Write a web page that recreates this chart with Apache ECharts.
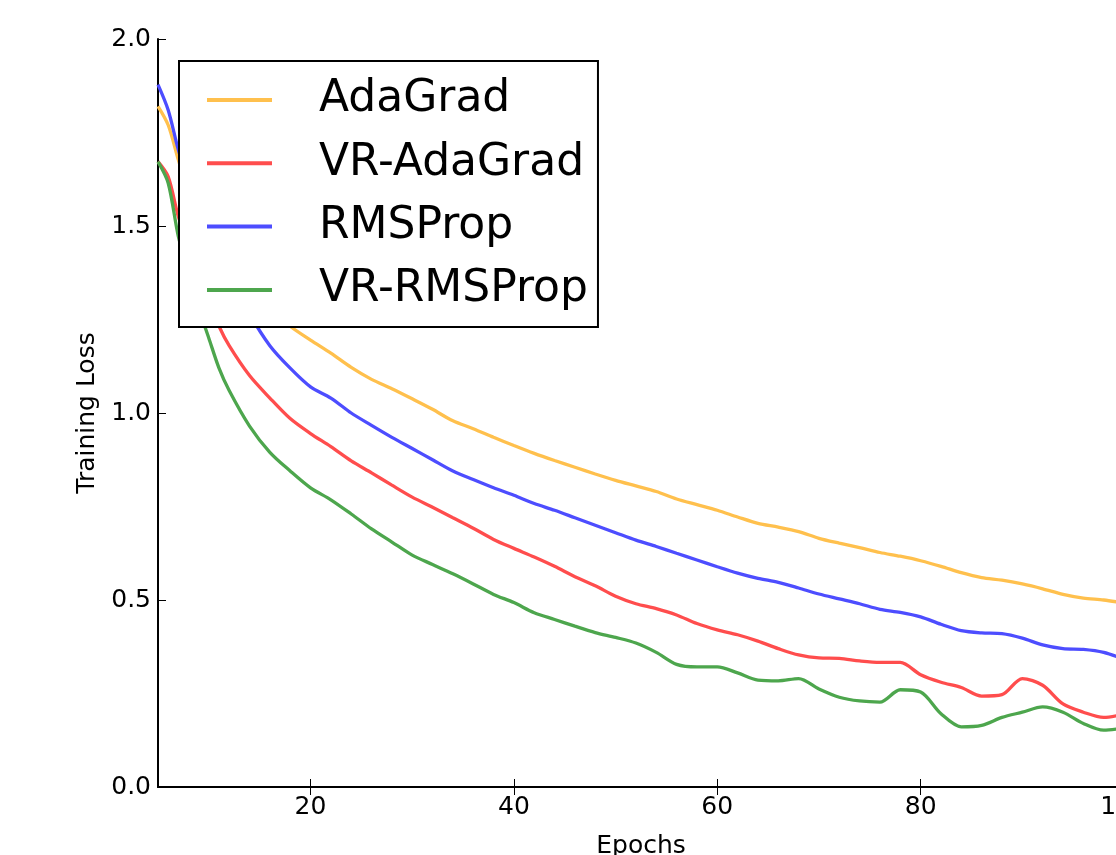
<!DOCTYPE html>
<html>
<head>
<meta charset="utf-8">
<script src="https://cdn.jsdelivr.net/npm/echarts@6/dist/echarts.min.js"></script>
<style>
html, body { margin: 0; padding: 0; background: #fff; }
#main { width: 1116px; height: 855px; }
</style>
</head>
<body>
<div id="main"></div>
<script>
var epochs = [5, 6, 7, 8, 9, 10, 11, 12, 14, 16, 18, 20, 22, 24, 26, 28, 30, 32, 34, 36, 38, 40,
  42, 44, 46, 48, 50, 52, 54, 56, 58, 60, 62, 64, 66, 68, 70, 72, 74, 76, 78, 80,
  82, 84, 86, 88, 90, 92, 94, 96, 98, 100];

var adaGrad = [1.82, 1.77, 1.677, 1.59, 1.53, 1.48, 1.44, 1.40, 1.335, 1.28, 1.232, 1.195, 1.16, 1.122, 1.09, 1.065, 1.038, 1.01, 0.979, 0.958, 0.935, 0.913,
  0.892, 0.873, 0.855, 0.837, 0.82, 0.805, 0.79, 0.77, 0.755, 0.74, 0.722, 0.705, 0.695, 0.683, 0.665, 0.652, 0.64, 0.627, 0.617, 0.605,
  0.59, 0.573, 0.56, 0.553, 0.543, 0.53, 0.515, 0.505, 0.50, 0.492];

var vrAdaGrad = [1.672, 1.632, 1.525, 1.45, 1.37, 1.30, 1.232, 1.18, 1.10, 1.04, 0.985, 0.945, 0.91, 0.872, 0.84, 0.807, 0.775, 0.748, 0.72, 0.692, 0.662, 0.638,
  0.615, 0.59, 0.562, 0.538, 0.51, 0.49, 0.477, 0.46, 0.437, 0.42, 0.407, 0.39, 0.37, 0.353, 0.345, 0.344, 0.337, 0.333, 0.333, 0.30,
  0.28, 0.266, 0.243, 0.247, 0.29, 0.272, 0.222, 0.20, 0.186, 0.195];

var rmsProp = [1.878, 1.81, 1.704, 1.62, 1.55, 1.48, 1.42, 1.37, 1.265, 1.18, 1.12, 1.07, 1.04, 1.00, 0.967, 0.935, 0.905, 0.875, 0.845, 0.822, 0.80, 0.78,
  0.758, 0.74, 0.72, 0.70, 0.68, 0.66, 0.643, 0.625, 0.607, 0.589, 0.572, 0.558, 0.547, 0.532, 0.516, 0.503, 0.49, 0.475, 0.467, 0.455,
  0.435, 0.418, 0.412, 0.41, 0.398, 0.38, 0.37, 0.368, 0.36, 0.342];

var vrRmsProp = [1.672, 1.615, 1.472, 1.375, 1.28, 1.20, 1.12, 1.06, 0.965, 0.895, 0.845, 0.80, 0.768, 0.73, 0.69, 0.655, 0.62, 0.595, 0.57, 0.543, 0.515, 0.493,
  0.466, 0.448, 0.43, 0.413, 0.40, 0.385, 0.36, 0.328, 0.321, 0.321, 0.305, 0.286, 0.284, 0.29, 0.262, 0.24, 0.23, 0.227, 0.26, 0.254,
  0.196, 0.161, 0.165, 0.186, 0.20, 0.214, 0.20, 0.17, 0.152, 0.158];

var xTicks = [20, 40, 60, 80, 100];

var font = 'DejaVu Sans';

function pairs(values) {
  return epochs.map(function (e, i) { return [e, values[i]]; });
}

function lineSeries(name, color, values) {
  return {
    name: name,
    type: 'line',
    data: pairs(values),
    showSymbol: false,
    symbol: 'none',
    smooth: 0.3,
    color: color,
    lineStyle: { width: 3.3, color: color },
    clip: true,
    z: 2
  };
}

var chart = echarts.init(document.getElementById('main'));

var axisLine = { show: true, lineStyle: { color: '#000', width: 2 } };

chart.setOption({
  animation: false,
  backgroundColor: '#fff',
  grid: { left: 158, top: 39, width: 966, height: 748, containLabel: false, outerBoundsMode: 'none' },
  legend: {
    orient: 'vertical',
    left: 179,
    top: 61,
    selectedMode: false,
    icon: 'rect',
    itemWidth: 65,
    itemHeight: 4,
    itemGap: 13.3,
    padding: [14, 10, 12, 28],
    borderColor: '#000',
    borderWidth: 2,
    backgroundColor: '#fff',
    textStyle: {
      fontFamily: font,
      fontSize: 44,
      color: '#000',
      lineHeight: 50,
      padding: [0, 0, 0, 42]
    },
    data: ['AdaGrad', 'VR-AdaGrad', 'RMSProp', 'VR-RMSProp'],
    z: 10
  },
  xAxis: [{
    type: 'value',
    min: 5,
    max: 100,
    name: 'Epochs',
    nameLocation: 'middle',
    nameGap: 47,
    nameTextStyle: { fontFamily: font, fontSize: 25, color: '#000' },
    axisLine: axisLine,
    axisTick: { show: true, inside: true, length: 8, customValues: xTicks, lineStyle: { color: '#000', width: 1 } },
    axisLabel: { customValues: xTicks, fontFamily: font, fontSize: 25, color: '#000', margin: 8 },
    splitLine: { show: false }
  }, {
    type: 'value',
    position: 'top',
    min: 5,
    max: 100,
    axisLine: axisLine,
    axisTick: { show: true, inside: true, length: 8, customValues: xTicks, lineStyle: { color: '#000', width: 1 } },
    axisLabel: { show: false },
    splitLine: { show: false }
  }],
  yAxis: [{
    type: 'value',
    min: 0,
    max: 2,
    interval: 0.5,
    name: 'Training Loss',
    nameLocation: 'middle',
    nameGap: 58,
    nameTextStyle: { fontFamily: font, fontSize: 25, color: '#000' },
    axisLine: axisLine,
    axisTick: { show: true, inside: true, length: 8, lineStyle: { color: '#000', width: 1 } },
    axisLabel: {
      fontFamily: font, fontSize: 25, color: '#000', margin: 7,
      formatter: function (v) { return v.toFixed(1); }
    },
    splitLine: { show: false }
  }, {
    type: 'value',
    position: 'right',
    min: 0,
    max: 2,
    interval: 0.5,
    axisLine: axisLine,
    axisTick: { show: true, inside: true, length: 8, lineStyle: { color: '#000', width: 1 } },
    axisLabel: { show: false },
    splitLine: { show: false }
  }],
  series: [
    lineSeries('AdaGrad', '#FFC04D', adaGrad),
    lineSeries('VR-AdaGrad', '#FF4D4D', vrAdaGrad),
    lineSeries('RMSProp', '#4D4DFF', rmsProp),
    lineSeries('VR-RMSProp', '#4DA64D', vrRmsProp)
  ]
});
</script>
</body>
</html>
